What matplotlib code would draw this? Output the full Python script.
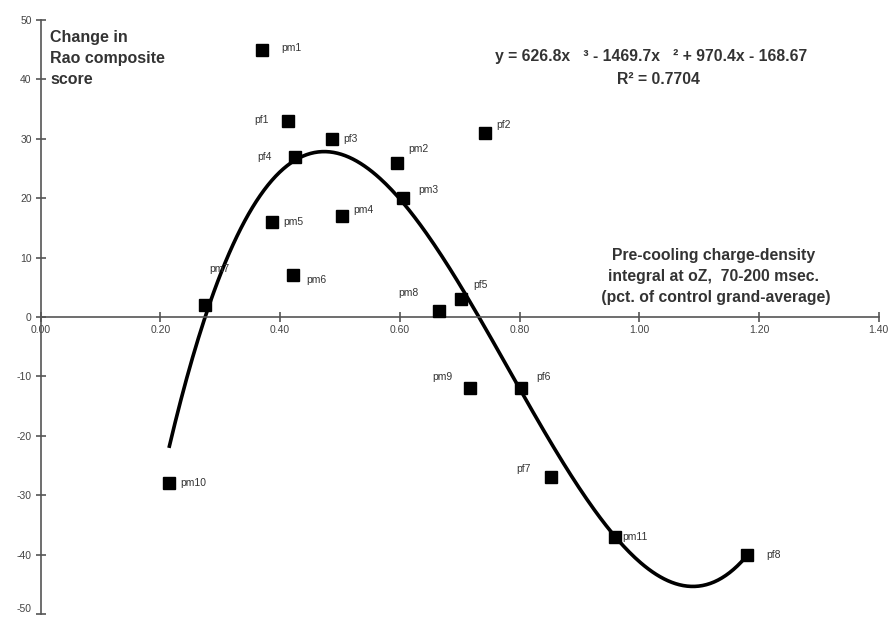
import numpy as np
import matplotlib
matplotlib.use("Agg")
import matplotlib.pyplot as plt

plt.rcParams['font.family'] = ['Liberation Sans', 'DejaVu Sans']
plt.rcParams['axes.unicode_minus'] = False

labels = ["pm1", "pf1", "pf3", "pf4", "pm2", "pf2", "pm3", "pm5", "pm4", "pm6",
          "pm7", "pm8", "pf5", "pm9", "pf6", "pm10", "pf7", "pm11", "pf8"]
x_vals = [0.370, 0.413, 0.487, 0.425, 0.595, 0.742, 0.605, 0.387, 0.503, 0.422,
          0.275, 0.665, 0.702, 0.717, 0.802, 0.215, 0.853, 0.960, 1.180]
y_vals = [45, 33, 30, 27, 26, 31, 20, 16, 17, 7,
          2, 1, 3, -12, -12, -28, -27, -37, -40]
# label offsets in points (dx, dy)
label_offsets = [(14, 1), (-24, 1), (8, 0), (-27, 0), (8, 10), (8, 6), (11, 6), (8, 0), (8, 4), (9, -3),
                 (3, 26), (-29, 13), (9, 10), (-27, 8), (11, 8), (8, 0), (-25, 6), (5, 0), (14, 0)]

trend_coefs = [626.8, -1469.7, 970.4, -168.67]
trend_range = [0.215, 1.18]

fig = plt.figure(figsize=(8.92, 6.18), dpi=100)
ax = fig.add_axes([40.7 / 892, 4 / 618, 838 / 892, 594 / 618])
ax.set_xlim(0, 1.40)
ax.set_ylim(-50, 50)

xs = np.linspace(trend_range[0], trend_range[1], 300)
ax.plot(xs, np.polyval(trend_coefs, xs), color='black', lw=2.6, zorder=2)
ax.plot(x_vals, y_vals, linestyle='none', marker='s', ms=8.5, color='black', zorder=3)

for lab, xv, yv, (dx, dy) in zip(labels, x_vals, y_vals, label_offsets):
    ax.annotate(lab, (xv, yv), xytext=(dx, dy), textcoords='offset points',
                fontsize=7.5, color='#333333', va='center', ha='left')

for s in ['top', 'right']:
    ax.spines[s].set_visible(False)
ax.spines['bottom'].set_position(('data', 0))
ax.spines['left'].set_position(('data', 0))
for s in ['bottom', 'left']:
    ax.spines[s].set_color('#555555')
    ax.spines[s].set_linewidth(1.2)

ax.set_xticks(np.arange(0, 1.41, 0.2))
ax.set_xticklabels([f"{v:.2f}" for v in np.arange(0, 1.41, 0.2)])
ax.set_yticks(np.arange(-50, 51, 10))
ax.tick_params(axis='both', direction='inout', length=7, width=1.2, color='#555555',
               labelsize=7.5, labelcolor='#444444')
ax.tick_params(axis='x', pad=2)
ax.tick_params(axis='y', pad=3)
ax.patch.set_alpha(0)
for t in ax.get_yticklabels():
    if t.get_text() == "-50":
        t.set_va('bottom')

fig.text(50 / 892, 1 - 30 / 618, "Change in\nRao composite\nscore", fontsize=11.5,
         fontweight='bold', color='#333333', va='top', ha='left', linespacing=1.5)
fig.text(651 / 892, 1 - 57 / 618, "y = 626.8x   \u00b3 - 1469.7x   \u00b2 + 970.4x - 168.67",
         fontsize=11.3, fontweight='bold', color='#333333', ha='center', va='center')
fig.text(658 / 892, 1 - 79 / 618, "R\u00b2 = 0.7704", fontsize=11.3, fontweight='bold',
         color='#333333', ha='center', va='center')
fig.text(714 / 892, 1 - 277 / 618,
         "Pre-cooling charge-density\nintegral at oZ,  70-200 msec.\n (pct. of control grand-average)",
         fontsize=11.3, fontweight='bold', color='#333333', ha='center', va='center',
         linespacing=1.5)

fig.savefig("out.png", dpi=100)
